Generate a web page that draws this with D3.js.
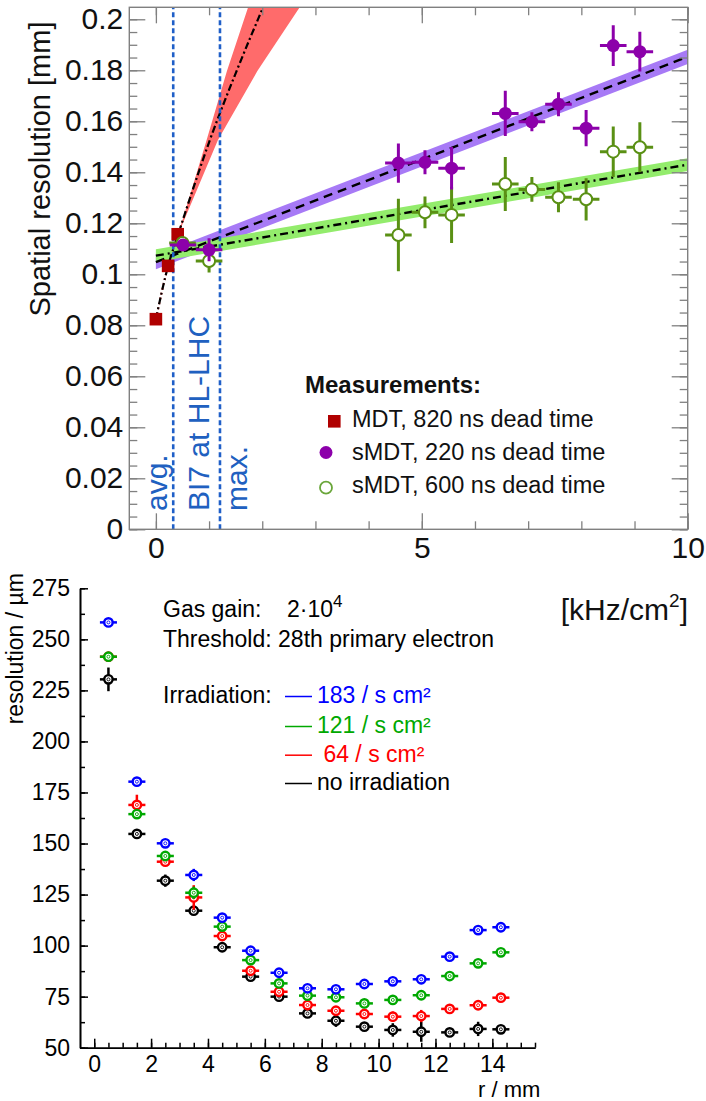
<html>
<head>
<script src="https://d3js.org/d3.v7.min.js"></script>
<style>
body { margin: 0; background: #fff; }
svg { display: block; font-family: "Liberation Sans", Arial, sans-serif; }
.frame line { stroke: #808080; stroke-width: 1.3; }
.frame .domain { display: none; }
.frame text { fill: #111; font-size: 30px; }
.bot line { stroke: #000; stroke-width: 1.5; }
.bot .domain { stroke: #000; stroke-width: 1.6; }
.bot text { fill: #000; font-size: 23px; }
</style>
</head>
<body>
<div id="plot"></div>
<script>

// ---- top panel: spatial resolution vs. background hit rate ----
var mdtRate = [0, 0.23, 0.41];
var mdtRes = [0.0824, 0.1033, 0.1157];

var s220Rate = [0.51, 1.0, 4.56, 5.06, 5.56, 6.57, 7.07, 7.57, 8.09, 8.6, 9.1];
var s220Res = [0.1115, 0.1096, 0.1436, 0.1439, 0.1416, 0.1631, 0.1598, 0.1667, 0.1573, 0.1897, 0.1873];
var s220Err = [0.002, 0.0045, 0.0077, 0.0047, 0.0083, 0.0089, 0.0037, 0.0047, 0.0071, 0.008, 0.0078];

var s600Rate = [0.5, 1.0, 4.56, 5.06, 5.56, 6.57, 7.07, 7.57, 8.09, 8.6, 9.1];
var s600Res = [0.1123, 0.1052, 0.1154, 0.1243, 0.1233, 0.1354, 0.1333, 0.1302, 0.1294, 0.1481, 0.1498];
var s600Err = [0.002, 0.0045, 0.0142, 0.0062, 0.011, 0.0106, 0.0049, 0.0059, 0.0083, 0.0099, 0.0098];
var rateErr = 0.25;

// fitted curves
var mdtFitRate = [0, 0.23, 0.42, 1.016, 1.517, 2.02];
var mdtFitRes = [0.0824, 0.1033, 0.1157, 0.1527, 0.1797, 0.2049];
var mdtBandRes = [0.1157, 0.1527, 0.1797, 0.2049];
var mdtBandLeft = [0.42, 0.954, 1.336, 1.737];
var mdtBandRight = [0.42, 1.167, 1.908, 2.71];

var fitRange = [0, 10];
var s220Fit = [0.1048, 0.1853];
var s600Fit = [0.1073, 0.1430];

var hlLines = [0.326, 1.205];
var hlLabels = ["avg.", "BI7 at HL-LHC", "max."];
var legendTop = ["MDT, 820 ns dead time", "sMDT, 220 ns dead time", "sMDT, 600 ns dead time"];

// ---- bottom panel: resolution vs. drift radius ----
var rPos = [0.5, 1.5, 2.5, 3.5, 4.5, 5.5, 6.5, 7.5, 8.5, 9.5, 10.5, 11.5, 12.5, 13.5, 14.3];
var res183 = [258.3, 180.3, 150.1, 134.6, 113.7, 97.5, 86.7, 79.1, 78.6, 81.2, 82.5, 83.5, 94.6, 107.6, 109.0];
var res121 = [241.5, 164.4, 143.9, 125.9, 109.3, 92.9, 81.5, 75.5, 74.7, 71.7, 73.4, 75.7, 85.1, 91.3, 96.7];
var res64 = [241.5, 168.9, 141.1, 123.6, 104.7, 87.7, 77.4, 70.9, 68.1, 66.5, 65.2, 65.5, 69.0, 70.8, 74.5];
var res0 = [230.4, 154.7, 131.8, 117.1, 99.2, 84.8, 75.0, 66.8, 63.2, 60.3, 58.7, 57.8, 57.5, 59.2, 59.0];
var err183 = [2, 2, 2, 3, 2, 2, 2, 2, 2, 1.5, 1.5, 1.5, 1.5, 1.5, 1.5];
var err121 = [2, 2, 2, 3, 2, 2, 2, 2, 1.5, 1.5, 1.5, 1.5, 1.5, 1.5, 1.5];
var err64 = [1.5, 5, 2, 6, 1.5, 2, 2, 2, 2, 2, 2.5, 3, 1.5, 1.5, 1.5];
var err0 = [5.8, 1.5, 3, 2, 1.5, 2, 2, 1.5, 3, 1, 3.3, 4.9, 1.5, 3.5, 1];
var rErr = 0.3;

var irrLabels = ["183 / s cm²", "121 / s cm²", " 64 / s cm²", "no irradiation"];
var irrColors = ["#0000ff", "#00a800", "#ff0000", "#000000"];

var width = 706, height = 1101;
var svg = d3.select("#plot").append("svg").attr("width", width).attr("height", height);

// ================= top panel =================
var xTop = d3.scaleLinear().domain([-0.5, 10]).range([129.3, 687.7]);
var yTop = d3.scaleLinear().domain([0, 0.2047]).range([529.3, 7.3]);

var upper = svg.append("g");
svg.append("clipPath").attr("id", "clipTop").append("rect")
  .attr("x", xTop(-0.5)).attr("y", yTop(0.2047))
  .attr("width", xTop(10) - xTop(-0.5)).attr("height", yTop(0) - yTop(0.2047));

var plot = upper.append("g").attr("clip-path", "url(#clipTop)");

// MDT band (red)
var bandPts = mdtBandRes.map(function (r, i) { return [xTop(mdtBandLeft[i]), yTop(r)]; })
  .concat(mdtBandRes.map(function (r, i) { return [xTop(mdtBandRight[i]), yTop(r)]; }).reverse());
plot.append("path").attr("d", d3.line()(bandPts)).style("fill", "#ff6b6b");

// linear fit bands
function fitBand(fit, hw, color) {
  var f = function (x) { return fit[0] + (fit[1] - fit[0]) * (x - fitRange[0]) / (fitRange[1] - fitRange[0]); };
  plot.append("path").datum(fitRange)
    .attr("d", d3.area().x(function (d) { return xTop(d); })
      .y0(function (d) { return yTop(f(d) - hw); })
      .y1(function (d) { return yTop(f(d) + hw); }))
    .style("fill", color);
}
fitBand(s220Fit, 0.0028, "#a77af6");
fitBand(s600Fit, 0.0025, "#93ec6c");

// fit lines
var mdtLine = d3.line().curve(d3.curveMonotoneX)
  .x(function (d, i) { return xTop(mdtFitRate[i]); })
  .y(function (d) { return yTop(d); });
plot.append("path").attr("d", mdtLine(mdtFitRes))
  .style("fill", "none").style("stroke", "#ff4040").style("stroke-width", 2).style("stroke-dasharray", "2,3");
plot.append("path").attr("d", mdtLine(mdtFitRes))
  .style("fill", "none").style("stroke", "#000").style("stroke-width", 2.2).style("stroke-dasharray", "7,3,2,3");

plot.append("line")
  .attr("x1", xTop(fitRange[0])).attr("y1", yTop(s220Fit[0]))
  .attr("x2", xTop(fitRange[1])).attr("y2", yTop(s220Fit[1]))
  .style("stroke", "#000").style("stroke-width", 2.4).style("stroke-dasharray", "9,6");
plot.append("line")
  .attr("x1", xTop(fitRange[0])).attr("y1", yTop(s600Fit[0]))
  .attr("x2", xTop(fitRange[1])).attr("y2", yTop(s600Fit[1]))
  .style("stroke", "#000").style("stroke-width", 2.4).style("stroke-dasharray", "8,4,2,4");

// HL-LHC rate lines
plot.selectAll("line.hl").data(hlLines).enter().append("line").attr("class", "hl")
  .attr("x1", function (d) { return xTop(d); }).attr("x2", function (d) { return xTop(d); })
  .attr("y1", yTop(0)).attr("y2", yTop(0.2047))
  .style("stroke", "#1f5fc8").style("stroke-width", 2.6).style("stroke-dasharray", "5,3");

var hlTextX = [167, 209, 247];
upper.selectAll("text.hl").data(hlLabels).enter().append("text").attr("class", "hl")
  .attr("transform", function (d, i) { return "translate(" + hlTextX[i] + ",511) rotate(-90)"; })
  .style("font-size", "30px").style("fill", "#2060c0")
  .text(function (d) { return d; });

// MDT squares
plot.selectAll("rect.mdt").data(mdtRes).enter().append("rect").attr("class", "mdt")
  .attr("x", function (d, i) { return xTop(mdtRate[i]) - 6.3; })
  .attr("y", function (d) { return yTop(d) - 6.3; })
  .attr("width", 12.6).attr("height", 12.6)
  .style("fill", "#b00000");

function errPoints(rate, res, err, color, open) {
  var g = plot.append("g");
  res.forEach(function (r, i) {
    g.append("line")
      .attr("x1", xTop(rate[i] - rateErr)).attr("x2", xTop(rate[i] + rateErr))
      .attr("y1", yTop(r)).attr("y2", yTop(r))
      .style("stroke", color).style("stroke-width", 3);
    g.append("line")
      .attr("x1", xTop(rate[i])).attr("x2", xTop(rate[i]))
      .attr("y1", yTop(r - err[i])).attr("y2", yTop(r + err[i]))
      .style("stroke", color).style("stroke-width", 3);
    g.append("circle")
      .attr("cx", xTop(rate[i])).attr("cy", yTop(r)).attr("r", open ? 6 : 6.5)
      .style("fill", open ? "#fff" : color)
      .style("stroke", open ? color : "none").style("stroke-width", 2);
  });
}
errPoints(s600Rate, s600Res, s600Err, "#5a9014", true);
errPoints(s220Rate, s220Res, s220Err, "#8c00aa", false);

// frame + axes (ROOT style, ticks inside)
var frame = upper.append("g").attr("class", "frame");
var yFmt = function (d) { return d < 1e-9 ? "0" : String(+d.toFixed(2)); };
var yMajor = d3.range(0, 0.2001, 0.02);
var yMinor = d3.range(0, 0.2047, 0.005);
var xMajor = [0, 5, 10];
var xMinor = d3.range(0, 10.01, 1);

frame.append("g").attr("transform", "translate(0," + yTop(0) + ")")
  .call(d3.axisBottom(xTop).tickValues(xMinor).tickSize(-8).tickFormat(""));
frame.append("g").attr("transform", "translate(0," + yTop(0) + ")")
  .call(d3.axisBottom(xTop).tickValues(xMajor).tickSize(-16).tickPadding(7.5).tickFormat(d3.format("d")));
frame.append("g").attr("transform", "translate(0," + yTop(0.2047) + ")")
  .call(d3.axisTop(xTop).tickValues(xMinor).tickSize(-8).tickFormat(""));
frame.append("g").attr("transform", "translate(0," + yTop(0.2047) + ")")
  .call(d3.axisTop(xTop).tickValues(xMajor).tickSize(-16).tickFormat(""));
frame.append("g").attr("transform", "translate(" + xTop(-0.5) + ",0)")
  .call(d3.axisLeft(yTop).tickValues(yMinor).tickSize(-8).tickFormat(""));
frame.append("g").attr("transform", "translate(" + xTop(-0.5) + ",0)")
  .call(d3.axisLeft(yTop).tickValues(yMajor).tickSize(-16).tickPadding(6).tickFormat(yFmt));
frame.append("g").attr("transform", "translate(" + xTop(10) + ",0)")
  .call(d3.axisRight(yTop).tickValues(yMinor).tickSize(-8).tickFormat(""));
frame.append("g").attr("transform", "translate(" + xTop(10) + ",0)")
  .call(d3.axisRight(yTop).tickValues(yMajor).tickSize(-16).tickFormat(""));
frame.append("rect")
  .attr("x", xTop(-0.5)).attr("y", yTop(0.2047))
  .attr("width", xTop(10) - xTop(-0.5)).attr("height", yTop(0) - yTop(0.2047))
  .style("fill", "none").style("stroke", "#808080").style("stroke-width", 1.4);

upper.append("text")
  .attr("transform", "translate(50," + 169 + ") rotate(-90)")
  .attr("text-anchor", "middle").style("font-size", "29px").style("fill", "#111")
  .text("Spatial resolution [mm]");

var unit = upper.append("text").attr("x", 688).attr("y", 620).attr("text-anchor", "end")
  .style("font-size", "30px").style("fill", "#111");
unit.append("tspan").text("[kHz/cm");
unit.append("tspan").attr("dy", -13).style("font-size", "19px").text("2");
unit.append("tspan").attr("dy", 13).text("]");

// legend
upper.append("text").attr("x", 305).attr("y", 393)
  .style("font-size", "24px").style("font-weight", "bold").style("fill", "#111")
  .text("Measurements:");
var legY = [427, 460, 493];
upper.selectAll("text.leg").data(legendTop).enter().append("text").attr("class", "leg")
  .attr("x", 352).attr("y", function (d, i) { return legY[i]; })
  .style("font-size", "23.5px").style("fill", "#111")
  .text(function (d) { return d; });
upper.append("rect").attr("x", 328).attr("y", 415).attr("width", 12.6).attr("height", 12.6).style("fill", "#b00000");
upper.append("circle").attr("cx", 326).attr("cy", 452.5).attr("r", 6.5).style("fill", "#8c00aa");
upper.append("circle").attr("cx", 326).attr("cy", 487.7).attr("r", 6).style("fill", "#fff")
  .style("stroke", "#6aa63a").style("stroke-width", 1.8);

// ================= bottom panel =================
var xBot = d3.scaleLinear().domain([-0.5, 15.5]).range([80, 535]);
var yBot = d3.scaleLinear().domain([50, 275]).range([1047.7, 588.3]);

var bot = svg.append("g").attr("class", "bot");

bot.append("g").attr("transform", "translate(0," + yBot(50) + ")")
  .call(d3.axisBottom(xBot).tickValues(d3.range(0, 15.51, 0.5)).tickSize(-5).tickSizeOuter(0).tickFormat(""));
bot.append("g").attr("transform", "translate(0," + yBot(50) + ")")
  .call(d3.axisBottom(xBot).tickValues(d3.range(0, 14.1, 2)).tickSize(-9).tickSizeOuter(0).tickPadding(7.5).tickFormat(d3.format("d")));
bot.append("g").attr("transform", "translate(" + xBot(-0.5) + ",0)")
  .call(d3.axisLeft(yBot).tickValues(d3.range(50, 275.1, 12.5)).tickSize(-5).tickSizeOuter(0).tickFormat(""));
bot.append("g").attr("transform", "translate(" + xBot(-0.5) + ",0)")
  .call(d3.axisLeft(yBot).tickValues(d3.range(50, 275.1, 25)).tickSize(-8).tickSizeOuter(0).tickPadding(10).tickFormat(d3.format("d")));

bot.append("text").attr("transform", "translate(23,573) rotate(-90)")
  .attr("text-anchor", "end").text("resolution / µm");
bot.append("text").attr("x", 478).attr("y", 1096.5).style("font-size", "22px").text("r / mm");

var series = [res183, res121, res64, res0];
var errs = [err183, err121, err64, err0];
[3, 2, 1, 0].forEach(function (k) {
  var g = bot.append("g");
  var c = irrColors[k];
  series[k].forEach(function (v, i) {
    g.append("line")
      .attr("x1", xBot(rPos[i] - rErr)).attr("x2", xBot(rPos[i] + rErr))
      .attr("y1", yBot(v)).attr("y2", yBot(v))
      .style("stroke", c).style("stroke-width", 2.5);
    g.append("line")
      .attr("x1", xBot(rPos[i])).attr("x2", xBot(rPos[i]))
      .attr("y1", yBot(v - errs[k][i])).attr("y2", yBot(v + errs[k][i]))
      .style("stroke", c).style("stroke-width", 2.5);
    g.append("circle").attr("cx", xBot(rPos[i])).attr("cy", yBot(v)).attr("r", 4.2)
      .style("fill", "#fff").style("stroke", c).style("stroke-width", 2.4);
    g.append("circle").attr("cx", xBot(rPos[i])).attr("cy", yBot(v)).attr("r", 1.5)
      .style("fill", "none").style("stroke", c).style("stroke-width", 0.9);
  });
});

// annotations
bot.append("text").attr("x", 163).attr("y", 617).text("Gas gain:");
var gain = bot.append("text").attr("x", 287).attr("y", 617);
gain.append("tspan").text("2·10");
gain.append("tspan").attr("dy", -10).style("font-size", "17px").text("4");
bot.append("text").attr("x", 163).attr("y", 647).text("Threshold: 28th primary electron");
bot.append("text").attr("x", 163).attr("y", 703).text("Irradiation:");

var irrY = [703, 733, 761.7, 790];
bot.selectAll("line.irr").data(irrLabels).enter().append("line").attr("class", "irr")
  .attr("x1", 285).attr("x2", 312)
  .attr("y1", function (d, i) { return irrY[i] - 6.5; }).attr("y2", function (d, i) { return irrY[i] - 6.5; })
  .style("stroke", function (d, i) { return irrColors[i]; }).style("stroke-width", 1.5);
bot.selectAll("text.irr").data(irrLabels).enter().append("text").attr("class", "irr")
  .attr("x", 317).attr("y", function (d, i) { return irrY[i]; })
  .attr("xml:space", "preserve").style("white-space", "pre")
  .style("fill", function (d, i) { return irrColors[i]; })
  .text(function (d) { return d; });

</script>
</body>
</html>
